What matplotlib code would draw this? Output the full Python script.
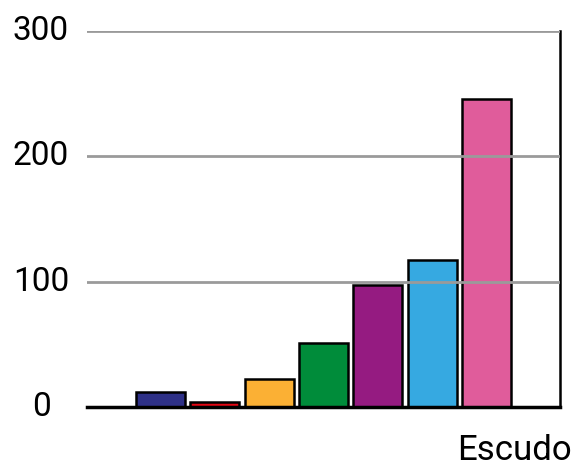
import matplotlib
matplotlib.use("Agg")
from matplotlib import pyplot as plt
from matplotlib.transforms import blended_transform_factory

# values
categories = ["1", "2", "3", "4", "5", "6", "7"]
values = [12, 4, 22, 51, 97, 117, 246]
colors = ["#2e3087", "#e30613", "#fbb034", "#008c3a", "#951b81", "#36a9e1", "#e05c9b"]
y_ticks = [0, 100, 200, 300]
x_label = "Escudo"

plt.rcParams["font.family"] = ["Roboto", "DejaVu Sans"]

fig = plt.figure(figsize=(5.77, 4.68), dpi=100)
ax = fig.add_axes([0.1508, 0.1303, 0.8197, 0.8035])

pos = list(range(len(values)))
ax.bar(pos, values, width=0.9, color=colors, edgecolor="black", linewidth=1.8, zorder=2)

ax.set_xlim(-1.35, len(values) - 1 + 1.35)
ax.set_ylim(0, 300)
ax.set_yticks(y_ticks)
ax.set_yticklabels([])
ax.set_xticks([])
ax.tick_params(axis="y", length=0)

# tick labels centred in the left margin
trans = blended_transform_factory(fig.transFigure, ax.transData)
for v in y_ticks:
    fig.text(41 / 577, v, str(v), transform=trans, fontsize=24,
             ha="center", va="center")

for v in y_ticks[1:]:
    ax.axhline(v, color="#9a9a9a", linewidth=2.0, zorder=3)

for side in ("left", "top"):
    ax.spines[side].set_visible(False)
ax.spines["bottom"].set_linewidth(2.5)
ax.spines["right"].set_linewidth(1.8)
ax.spines["bottom"].set_zorder(4)

fig.text(572 / 577, 1 - 460 / 468, x_label, fontsize=25,
         ha="right", va="baseline")

fig.savefig("out.png", dpi=100)
